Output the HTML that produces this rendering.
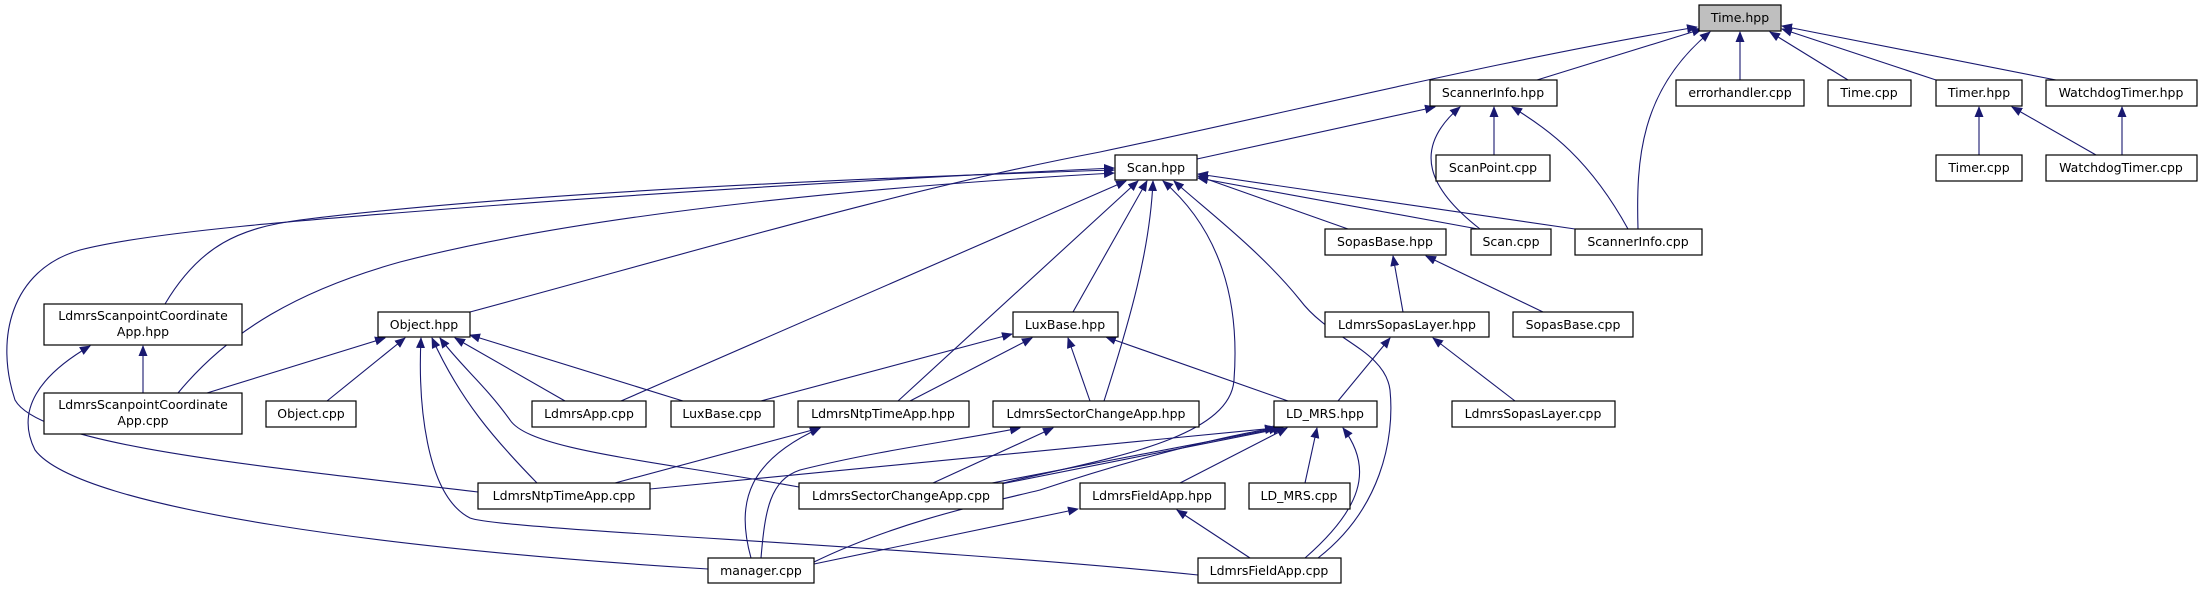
<!DOCTYPE html>
<html><head><meta charset="utf-8"><style>
html,body{margin:0;padding:0;background:#fff;}
svg{display:block;}
text{font-family:"DejaVu Sans","Liberation Sans",sans-serif;font-size:12.5px;fill:#000;text-anchor:middle;}
.e{fill:none;stroke:#191970;stroke-width:1.1;marker-end:url(#a);}
.n{fill:#fff;stroke:#000;stroke-width:1.2;}
</style></head><body>
<svg width="2202" height="589" viewBox="0 0 2202 589" xmlns="http://www.w3.org/2000/svg">
<defs><marker id="a" markerWidth="11" markerHeight="9" refX="10" refY="4.5" orient="auto" markerUnits="userSpaceOnUse"><path d="M0,0 L11,4.5 L0,9 z" fill="#191970"/></marker></defs>

<!-- edges to Time.hpp -->
<path class="e" d="M1537,80 L1702,29"/>
<path class="e" d="M1740,80 L1740,32"/>
<path class="e" d="M1848,80 L1770,32"/>
<path class="e" d="M1936,80 L1782,29"/>
<path class="e" d="M2056,80 L1782,26"/>
<path class="e" d="M470,312 C700,250 900,190 1100,152 C1300,110 1500,60 1697,27"/>
<path class="e" d="M1638,229 C1636,160 1640,90 1710,32"/>
<!-- ScannerInfo.hpp -->
<path class="e" d="M1197,159 L1435,107"/>
<path class="e" d="M1494,155 L1494,107"/>
<path class="e" d="M1480,229 C1430,190 1410,150 1460,107"/>
<path class="e" d="M1628,229 C1590,160 1550,130 1512,107"/>
<!-- Timer / Watchdog -->
<path class="e" d="M1979,155 L1979,107"/>
<path class="e" d="M2096,155 L2012,107"/>
<path class="e" d="M2122,155 L2122,107"/>
<!-- Scan.hpp -->
<path class="e" d="M1348,229 L1198,176"/>
<path class="e" d="M1478,229 L1198,178"/>
<path class="e" d="M1575,229 L1198,174"/>
<path class="e" d="M165,304 C200,245 240,228 300,220 C500,195 800,180 1114,170"/>
<path class="e" d="M478,492 C250,465 40,445 15,400 C-5,340 10,270 80,250 C150,232 300,220 500,205 C700,190 900,178 1114,168"/>
<path class="e" d="M178,393 C230,330 300,290 400,262 C600,210 900,185 1114,173"/>
<path class="e" d="M621,401 L1126,181"/>
<path class="e" d="M898,401 L1138,181"/>
<path class="e" d="M1073,312 L1147,181"/>
<path class="e" d="M1104,401 C1130,320 1150,250 1153,181"/>
<path class="e" d="M1003,483 C1100,460 1230,440 1234,380 C1240,300 1220,230 1163,181"/>
<path class="e" d="M1318,558 C1380,510 1395,440 1390,390 C1385,350 1330,340 1300,300 C1260,250 1200,205 1174,181"/>
<!-- Object.hpp -->
<path class="e" d="M207,393 L385,338"/>
<path class="e" d="M327,401 L405,338"/>
<path class="e" d="M565,401 L455,338"/>
<path class="e" d="M683,401 L470,335"/>
<path class="e" d="M537,483 C495,440 460,400 432,338"/>
<path class="e" d="M799,487 C650,460 530,450 510,420 C485,385 460,365 440,338"/>
<path class="e" d="M1198,575 C900,545 500,530 470,518 C425,495 418,400 421,338"/>
<!-- LdmrsScanpointCoordinateApp.hpp -->
<path class="e" d="M143,393 L143,346"/>
<path class="e" d="M708,569 C400,550 80,510 35,450 C15,410 40,375 90,346"/>
<!-- LuxBase.hpp -->
<path class="e" d="M761,401 L1012,334"/>
<path class="e" d="M910,401 L1032,338"/>
<path class="e" d="M1090,401 L1068,338"/>
<path class="e" d="M1288,401 L1106,337"/>
<!-- Sopas -->
<path class="e" d="M1338,401 L1390,338"/>
<path class="e" d="M1515,401 L1433,338"/>
<path class="e" d="M1403,312 L1393,256"/>
<path class="e" d="M1543,312 L1426,256"/>
<!-- LdmrsNtpTimeApp.hpp -->
<path class="e" d="M615,483 L820,428"/>
<path class="e" d="M751,558 C735,500 750,460 820,428"/>
<!-- LdmrsSectorChangeApp.hpp -->
<path class="e" d="M933,483 L1053,428"/>
<path class="e" d="M761,558 C765,510 770,480 800,470 C880,450 960,440 1020,428"/>
<!-- LD_MRS.hpp -->
<path class="e" d="M650,489 L1275,428"/>
<path class="e" d="M992,483 L1279,428"/>
<path class="e" d="M996,485 L1283,428"/>
<path class="e" d="M1180,483 L1287,428"/>
<path class="e" d="M1305,483 L1317,428"/>
<path class="e" d="M1305,558 C1360,510 1375,470 1343,428"/>
<path class="e" d="M814,562 C900,520 1000,500 1040,490 C1100,470 1200,440 1275,428"/>
<!-- LdmrsFieldApp.hpp -->
<path class="e" d="M814,564 L1078,509"/>
<path class="e" d="M1250,558 L1177,510"/>

<!-- nodes -->
<rect x="1699" y="5" width="82" height="26" fill="#bfbfbf" stroke="#000" stroke-width="1.2"/><text x="1740" y="22">Time.hpp</text>
<rect class="n" x="1430" y="80" width="127" height="26"/><text x="1493" y="97">ScannerInfo.hpp</text>
<rect class="n" x="1676" y="80" width="128" height="26"/><text x="1740" y="97">errorhandler.cpp</text>
<rect class="n" x="1828" y="80" width="83" height="26"/><text x="1869" y="97">Time.cpp</text>
<rect class="n" x="1936" y="80" width="86" height="26"/><text x="1979" y="97">Timer.hpp</text>
<rect class="n" x="2046" y="80" width="151" height="26"/><text x="2121" y="97">WatchdogTimer.hpp</text>
<rect class="n" x="1115" y="155" width="82" height="25"/><text x="1156" y="172">Scan.hpp</text>
<rect class="n" x="1436" y="155" width="114" height="26"/><text x="1493" y="172">ScanPoint.cpp</text>
<rect class="n" x="1936" y="155" width="86" height="26"/><text x="1979" y="172">Timer.cpp</text>
<rect class="n" x="2046" y="155" width="151" height="26"/><text x="2121" y="172">WatchdogTimer.cpp</text>
<rect class="n" x="1325" y="229" width="121" height="26"/><text x="1385" y="246">SopasBase.hpp</text>
<rect class="n" x="1471" y="229" width="80" height="26"/><text x="1511" y="246">Scan.cpp</text>
<rect class="n" x="1575" y="229" width="127" height="26"/><text x="1638" y="246">ScannerInfo.cpp</text>
<rect class="n" x="44" y="304" width="198" height="41"/><text x="143" y="320">LdmrsScanpointCoordinate</text><text x="143" y="336">App.hpp</text>
<rect class="n" x="378" y="312" width="92" height="25"/><text x="424" y="329">Object.hpp</text>
<rect class="n" x="1013" y="312" width="105" height="25"/><text x="1065" y="329">LuxBase.hpp</text>
<rect class="n" x="1325" y="312" width="164" height="25"/><text x="1407" y="329">LdmrsSopasLayer.hpp</text>
<rect class="n" x="1513" y="312" width="120" height="25"/><text x="1573" y="329">SopasBase.cpp</text>
<rect class="n" x="44" y="393" width="198" height="41"/><text x="143" y="409">LdmrsScanpointCoordinate</text><text x="143" y="425">App.cpp</text>
<rect class="n" x="266" y="401" width="90" height="26"/><text x="311" y="418">Object.cpp</text>
<rect class="n" x="532" y="401" width="114" height="26"/><text x="589" y="418">LdmrsApp.cpp</text>
<rect class="n" x="671" y="401" width="103" height="26"/><text x="722" y="418">LuxBase.cpp</text>
<rect class="n" x="798" y="401" width="171" height="26"/><text x="883" y="418">LdmrsNtpTimeApp.hpp</text>
<rect class="n" x="993" y="401" width="206" height="26"/><text x="1096" y="418">LdmrsSectorChangeApp.hpp</text>
<rect class="n" x="1274" y="401" width="103" height="26"/><text x="1325" y="418">LD_MRS.hpp</text>
<rect class="n" x="1452" y="401" width="163" height="26"/><text x="1533" y="418">LdmrsSopasLayer.cpp</text>
<rect class="n" x="478" y="483" width="172" height="26"/><text x="564" y="500">LdmrsNtpTimeApp.cpp</text>
<rect class="n" x="799" y="483" width="204" height="26"/><text x="901" y="500">LdmrsSectorChangeApp.cpp</text>
<rect class="n" x="1080" y="483" width="145" height="26"/><text x="1152" y="500">LdmrsFieldApp.hpp</text>
<rect class="n" x="1249" y="483" width="101" height="26"/><text x="1299" y="500">LD_MRS.cpp</text>
<rect class="n" x="708" y="558" width="106" height="25"/><text x="761" y="575">manager.cpp</text>
<rect class="n" x="1198" y="558" width="143" height="25"/><text x="1269" y="575">LdmrsFieldApp.cpp</text>
</svg>
</body></html>
